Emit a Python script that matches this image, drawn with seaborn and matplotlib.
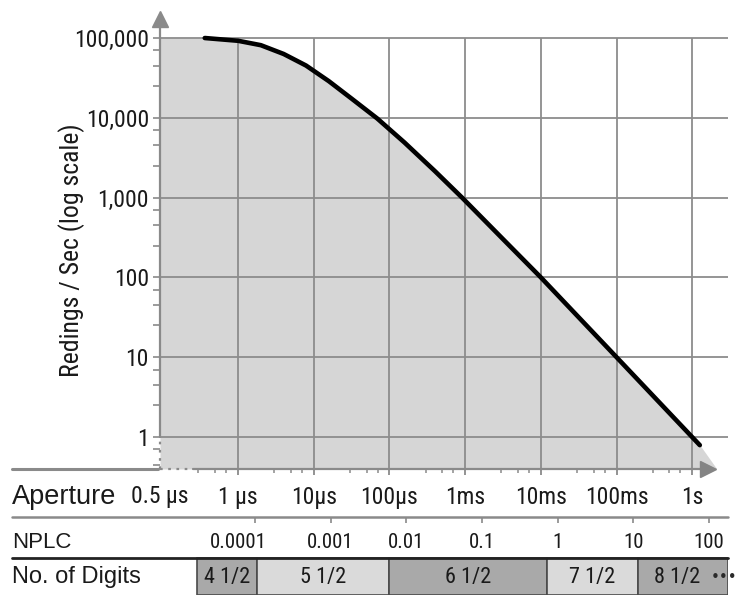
import numpy as np
import pandas as pd
import matplotlib
matplotlib.use("Agg")
import matplotlib.pyplot as plt
from matplotlib.lines import Line2D
import seaborn as sns

# ---------------- data ----------------
aperture_s = [0.363e-6, 1e-6, 2.0e-6, 4.0e-6, 7.9e-6, 15.8e-6, 31.6e-6, 69e-6,
              158e-6, 400e-6, 0.91e-3, 3.16e-3, 1e-2, 1e-1, 1.26]
readings = [100000, 92300, 81300, 63100, 45200, 28800, 17400, 9800,
            4900, 2140, 1000, 302, 100, 10, 0.79]

y_ticks = [1, 10, 100, 1000, 10000, 100000]
y_ticklabels = ["1", "10", "100", "1,000", "10,000", "100,000"]

x_ticks = [1e-6, 1e-5, 1e-4, 1e-3, 1e-2, 1e-1, 1]
x_ticklabels = ["1 µs", "10µs", "100µs", "1ms", "10ms", "100ms", "1s"]
x_first_label = "0.5 µs"

nplc_values = [0.0001, 0.001, 0.01, 0.1, 1, 10, 100]
nplc_labels = ["0.0001", "0.001", "0.01", "0.1", "1", "10", "100"]
plc_seconds = 1 / 60.0

digit_labels = ["4 1/2", "5 1/2", "6 1/2", "7 1/2", "8 1/2"]
digit_edges = [0.29e-6, 1.8e-6, 1.0e-4, 1.2e-2, 0.19, 2.97]
digit_colors = ["#a9a9a9", "#dadada", "#a9a9a9", "#dadada", "#a9a9a9"]

# ---------------- style ----------------
sns.set_theme(style="white")
COND = ["Roboto Condensed", "DejaVu Sans"]
REG = ["Liberation Sans", "DejaVu Sans"]
plt.rcParams["font.family"] = COND

W, H = 740, 595
fig = plt.figure(figsize=(W / 100, H / 100), dpi=100)
fig.patch.set_facecolor("white")

def fx(px):
    return px / W

def fy(py):
    return 1 - py / H

GRID = "#8c8c8c"
AXC = "#8a8a8a"
FILL = "#d6d6d6"
TXT = "#1a1a1a"
XLIM = (9.3e-8, 2.97)
YLIM = (0.397, 10 ** 5.326)
ARROW_TIP_X = 2.1

ax = fig.add_axes([fx(160), fy(469), (728 - 160) / W, (469 - 12) / H])
ax.set_xscale("log")
ax.set_yscale("log")
ax.set_xlim(*XLIM)
ax.set_ylim(*YLIM)
ax.set_facecolor("white")
for s in ax.spines.values():
    s.set_visible(False)

# fill under curve (plus the tapered end running into the arrow)
fill_x = [XLIM[0]] + aperture_s
fill_y = [max(readings)] + readings
ax.fill_between(fill_x, fill_y, YLIM[0], color=FILL, lw=0, zorder=0)
ax.fill([aperture_s[-1], aperture_s[-1], ARROW_TIP_X],
        [readings[-1], YLIM[0], YLIM[0]], color=FILL, lw=0, zorder=0)

# grid
for yv in y_ticks:
    ax.axhline(yv, color=GRID, lw=1.3, zorder=1)
ax.vlines(x_ticks, YLIM[0], max(y_ticks), color=GRID, lw=1.3, zorder=1)

# curve
df = pd.DataFrame({"aperture": aperture_s, "readings": readings})
sns.lineplot(data=df, x="aperture", y="readings", ax=ax, color="black",
             lw=3.3, estimator=None, sort=False, zorder=4)
ax.set_xlabel("")
ax.set_ylabel("Redings / Sec (log scale)", fontsize=18.5, color=TXT, family=COND)
ax.yaxis.set_label_coords(-0.132, 0.479)

# axis lines with breaks and arrows
yt = ax.get_yaxis_transform()
xt = ax.get_xaxis_transform()
ax.plot([0, 0], [1, 10 ** 5.2], transform=yt, color=AXC, lw=1.6, clip_on=False, zorder=5)
ax.plot([0, 0], [YLIM[0], 1], transform=yt, color=AXC, lw=1.6, ls=(0, (1.2, 2.5)),
        clip_on=False, zorder=5)
ax.plot([0], [10 ** 5.235], transform=yt, marker="^", ms=11, color=AXC,
        clip_on=False, zorder=6)
ax.plot([2.55e-7, 1.5], [0, 0], transform=xt, color=AXC, lw=1.6, clip_on=False, zorder=5)
ax.plot([XLIM[0], 2.55e-7], [0, 0], transform=xt, color=AXC, lw=1.6,
        ls=(0, (1.2, 2.5)), clip_on=False, zorder=5)
ax.plot([1.62], [0], transform=xt, marker=">", ms=12, color="#848484",
        mec="#848484", clip_on=False, zorder=6)

# ticks
ax.set_yticks(y_ticks)
ax.set_yticklabels(y_ticklabels)
ax.yaxis.set_minor_locator(matplotlib.ticker.LogLocator(base=10, subs=[2.5, 4.5, 7.0]))
ax.yaxis.set_minor_formatter(matplotlib.ticker.NullFormatter())
ax.tick_params(axis="y", which="both", left=True, direction="out", length=5,
               width=1.2, color=AXC, labelsize=17, labelcolor=TXT, pad=3)
ax.set_xticks(x_ticks)
ax.set_xticklabels(x_ticklabels)
ax.xaxis.set_minor_locator(matplotlib.ticker.LogLocator(base=10, subs=[3.0, 5.0, 7.0]))
ax.xaxis.set_minor_formatter(matplotlib.ticker.NullFormatter())
ax.tick_params(axis="x", which="major", bottom=True, direction="out", length=4,
               width=1.3, color=AXC, labelsize=17, labelcolor=TXT, pad=8)
ax.tick_params(axis="x", which="minor", bottom=True, direction="out", length=3,
               width=1.1, color=AXC)
ax.text(0, -28 / 457, x_first_label, transform=ax.transAxes, ha="center",
        va="center", fontsize=17, color=TXT, family=COND)

# ---------------- lower table ----------------
ax2 = fig.add_axes([fx(160), 0, (728 - 160) / W, (595 - 517) / H])
ax2.set_xscale("log")
ax2.set_xlim(*XLIM)
ax2.set_ylim(0, 78)
ax2.patch.set_alpha(0)
for s in ax2.spines.values():
    s.set_visible(False)
ax2.set_yticks([])
nplc_x = [v * plc_seconds for v in nplc_values]
ax2.xaxis.set_ticks_position("top")
ax2.set_xticks(nplc_x)
ax2.set_xticklabels([])
ax2.xaxis.set_minor_locator(matplotlib.ticker.NullLocator())
ax2.tick_params(axis="x", which="major", top=True, bottom=False, direction="in",
                length=4, width=1.2, color=AXC)
for i, (xv, lab) in enumerate(zip(nplc_x, nplc_labels)):
    off = -12 if i == 0 else 0
    ax2.annotate(lab, (xv, 53), xytext=(off, 0), textcoords="offset points",
                 ha="center", va="center", fontsize=15, color=TXT, family=COND)

lefts = digit_edges[:-1]
widths = [r - l for l, r in zip(digit_edges[:-1], digit_edges[1:])]
ax2.barh([18.5] * len(lefts), widths, left=lefts, height=37, color=digit_colors,
         edgecolor="#4a4a4a", lw=1.2, zorder=1)
for i, (l, r, lab) in enumerate(zip(digit_edges[:-1], digit_edges[1:], digit_labels)):
    off = -4 if i == len(digit_labels) - 1 else 0
    ax2.annotate(lab, (np.sqrt(l * r), 18), xytext=(off, 0), textcoords="offset points",
                 ha="center", va="center", fontsize=16, color=TXT, family=COND,
                 zorder=2)

# figure-level rules and row headers
fig.add_artist(Line2D([fx(12), fx(158)], [fy(469), fy(469)], color=AXC, lw=2.2))
fig.add_artist(Line2D([fx(12), fx(728)], [fy(517), fy(517)], color=AXC, lw=1.8))
fig.add_artist(Line2D([fx(12), fx(728)], [fy(558), fy(558)], color="#222222", lw=2.0))
fig.text(fx(12), fy(497), "Aperture", ha="left", va="center", fontsize=19.5,
         color=TXT, family=REG)
fig.text(fx(12), fy(542), "NPLC", ha="left", va="center", fontsize=16,
         color=TXT, family=REG)
fig.text(fx(12), fy(577), "No. of Digits", ha="left", va="center", fontsize=17,
         color=TXT, family=REG)
fig.text(fx(711), fy(577), "•••", ha="left", va="center", fontsize=11,
         color="#2a2a2a", family=["DejaVu Sans"], zorder=6)

fig.savefig("out.png", dpi=100, facecolor="white")
